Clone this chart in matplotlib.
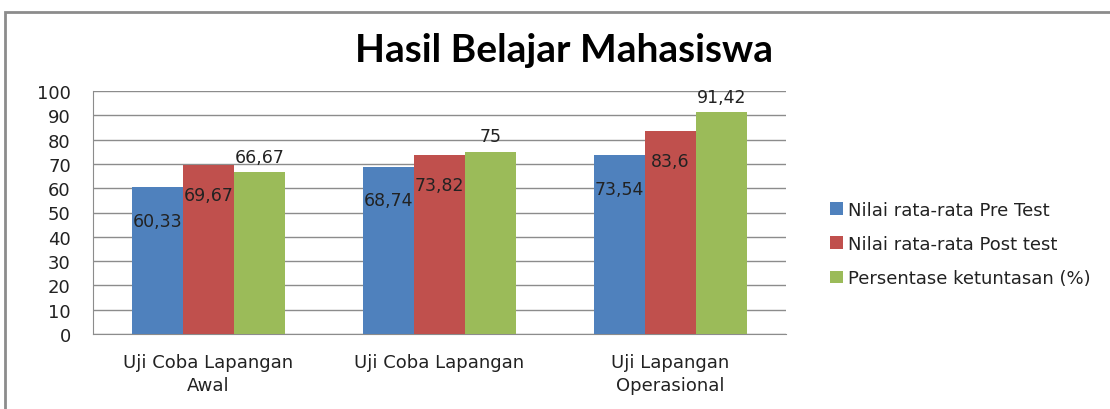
import numpy as np
import matplotlib.pyplot as plt
from matplotlib.patches import Rectangle

categories = ['Uji Coba Lapangan\nAwal', 'Uji Coba Lapangan', 'Uji Lapangan\nOperasional']
pre_test = [60.33, 68.74, 73.54]
post_test = [69.67, 73.82, 83.6]
ketuntasan = [66.67, 75, 91.42]
series_names = ['Nilai rata-rata Pre Test', 'Nilai rata-rata Post test',
                'Persentase ketuntasan (%)']
colors = ['#4f81bd', '#c0504d', '#9bbb59']

plt.rcParams['font.family'] = ['DejaVu Sans']

fig = plt.figure(figsize=(11.1, 4.1), dpi=100)
ax = fig.add_axes([93 / 1110, 1 - 335 / 410, 693 / 1110, 243 / 410])

x = np.arange(len(categories))
width = 0.22
# label offsets (points) relative to bar top, mimicking the Excel placement
offsets = [-24, -22, 11]
for i, (vals, name) in enumerate(zip([pre_test, post_test, ketuntasan], series_names)):
    pos = x + (i - 1) * width
    ax.bar(pos, vals, width, color=colors[i], label=name, zorder=3)
    for p, v in zip(pos, vals):
        txt = ('%g' % v).replace('.', ',')
        ax.annotate(txt, (p, v), xytext=(0, offsets[i]), textcoords='offset points',
                    ha='center', va='center', fontsize=12.5, color='#222222', zorder=4)

ax.set_xlim(-0.5, 2.5)
ax.set_ylim(0, 100)
ax.set_yticks(range(0, 101, 10))
ax.set_xticks(x)
ax.set_xticklabels(categories, fontsize=13, color='#222222', linespacing=1.35)
ax.tick_params(axis='y', labelsize=13, length=0, pad=16, colors='#222222')
ax.tick_params(axis='x', length=0, pad=14)
ax.yaxis.grid(True, color='#8c8c8c', linewidth=1, zorder=0)
for s in ['top', 'right']:
    ax.spines[s].set_visible(False)
ax.spines['left'].set_color('#8c8c8c')
ax.spines['bottom'].set_color('#8c8c8c')

fig.text(564 / 1110, 1 - 51 / 410, 'Hasil Belajar Mahasiswa', ha='center', va='center',
         fontsize=28, fontweight='bold', family=['Lato', 'DejaVu Sans'])

leg = fig.legend(loc='center left', bbox_to_anchor=(814 / 1110, 1 - 245 / 410),
                 frameon=False, fontsize=13, handlelength=0.7, handleheight=0.7,
                 labelspacing=0.9, handletextpad=0.3)
for t in leg.get_texts():
    t.set_color('#222222')

fig.patches.append(Rectangle((5 / 1110, -0.05), 1.2, 1 - 13 / 410 + 0.05,
                             transform=fig.transFigure, fill=False,
                             edgecolor='#8c8c8c', linewidth=2))

fig.savefig('out.png', dpi=100)
